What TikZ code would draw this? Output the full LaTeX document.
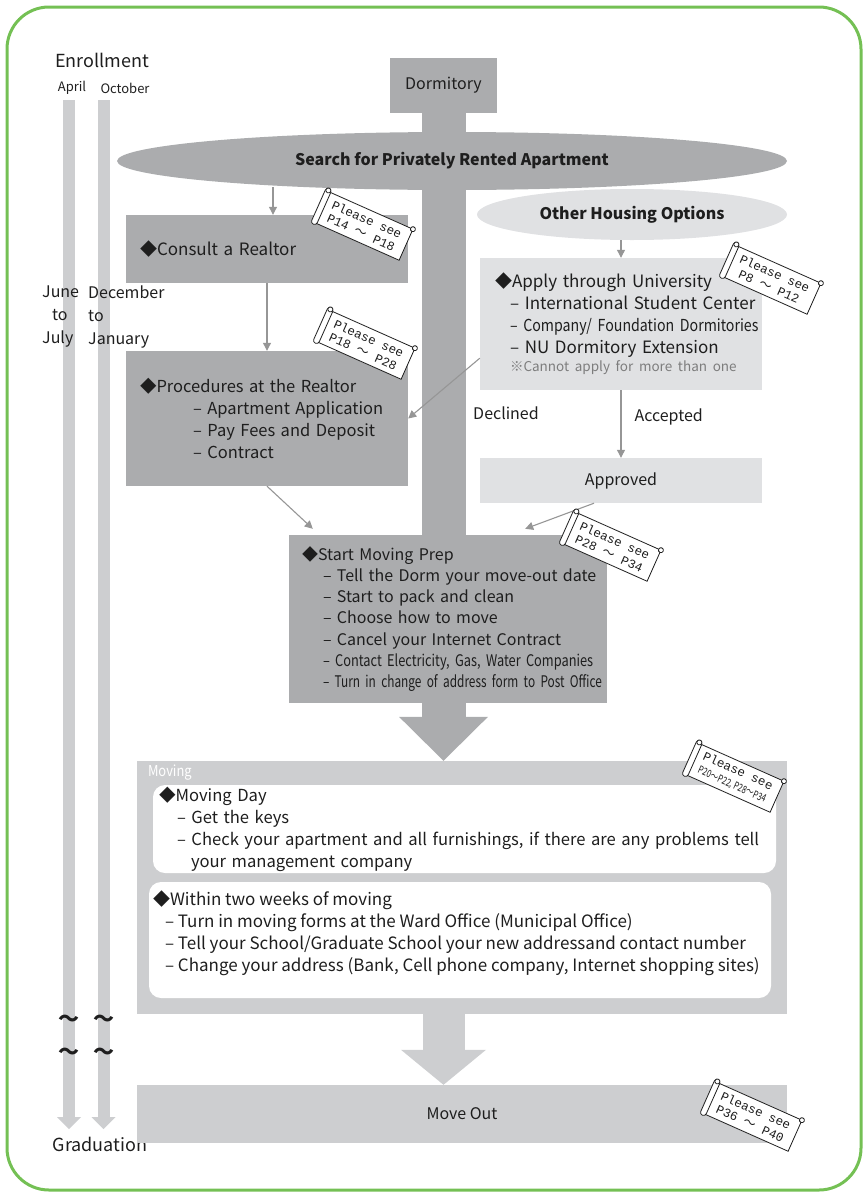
\documentclass[tikz,border=0pt]{standalone}
\usepackage{fontspec}
\setmainfont{Noto Sans CJK JP}
\newfontfamily\narrowfont[FakeStretch=0.86]{Noto Sans CJK JP}
\newfontfamily\condfont[FakeStretch=0.80]{Noto Sans CJK JP}
\newfontfamily\tightfont[FakeStretch=0.74]{Noto Sans CJK JP}
\newfontfamily\jpfont{Noto Sans CJK JP}
\setmonofont{Liberation Mono}
\usetikzlibrary{shapes.geometric,arrows.meta,positioning,backgrounds}

\definecolor{ink}{RGB}{30,30,30}
\definecolor{darkgrey}{RGB}{171,172,174}
\definecolor{palegrey}{RGB}{224,225,227}
\definecolor{midgrey}{RGB}{205,206,208}
\definecolor{linegrey}{RGB}{150,150,150}
\definecolor{notegrey}{RGB}{125,125,125}
\definecolor{framegreen}{RGB}{116,192,84}

% one list line that never wraps
\newcommand{\entry}[1]{\mbox{– #1}}

\tikzset{
  darkbox/.style={fill=darkgrey, inner ysep=0pt, align=left},
  palebox/.style={fill=palegrey, inner ysep=0pt, align=left},
  movebox/.style={fill=midgrey, inner sep=0pt},
  notebox/.style={fill=white, rounded corners=12pt, inner ysep=0pt, align=left},
  oval/.style={ellipse, inner sep=0pt, font=\bfseries\fontsize{16}{18}\selectfont},
  flow/.style={draw=linegrey, line width=1.1pt, -{Triangle[width=8pt,length=8pt]}},
  bigflow/.style={draw=darkgrey, line width=44pt, -{Triangle[width=89pt,length=44pt,line width=0pt]}},
  softflow/.style={draw=midgrey, line width=42pt, -{Triangle[width=85pt,length=35pt,line width=0pt]}},
  timebar/.style={draw=midgrey, line width=12pt, -{Triangle[width=24pt,length=12pt,line width=0pt]}},
  monthtext/.style={inner sep=0pt, font=\fontsize{13}{15}\selectfont},
  period/.style={anchor=north west, inner sep=0pt, align=left, font=\fontsize{16}{23}\selectfont},
  wave/.style={inner sep=0pt, font=\bfseries\fontsize{21}{21}\selectfont},
  flowlabel/.style={inner sep=0pt},
  scrollbox/.style={draw=ink, fill=white, line width=0.8pt, minimum width=92pt,
    minimum height=34pt, inner sep=0pt, align=center, transform shape,
    font=\ttfamily\fontsize{12.5}{14}\selectfont},
  scrollline/.style={draw=ink, line width=0.8pt, fill=white}
}

% page reference scroll: name, centre, pages
\newcommand{\pleasesee}[3]{%
  \begin{scope}[shift={(#2)}, rotate=-24]
    \node[scrollbox] (#1) at (0,0) {Please see\\#3};
    \draw[scrollline, rounded corners=3pt] (-50,-20) rectangle (-44,19);
    \draw[scrollline] (-47,-18) circle (2.5pt);
    \draw[scrollline] (46,-17) circle (2.5pt);
  \end{scope}}

\begin{document}
\begin{tikzpicture}[x=1pt, y=-1pt, font=\fontsize{16}{22}\selectfont, text=ink]
\useasboundingbox (0,0) rectangle (867,1194);
\draw[framegreen, line width=3pt, rounded corners=42pt] (7,7) rectangle (861,1190);

% time line
\draw[timebar] (69,100) -- (69,1129);
\draw[timebar] (103.5,100) -- (103.5,1129);
\node[font=\fontsize{18}{20}\selectfont] (enroll) at (102,60) {Enrollment};
\node[monthtext] (april) at (72,88) {April};
\node[monthtext] (october) at (125,88) {October};
\node[period] (spring) at (42,286) {June\\\hspace*{10pt}to\\July};
\node[period] (autumn) at (88,286) {December\\to\\January};
\foreach \y [count=\i] in {1021,1054} {
  \node[wave] (wa\i) at (69,\y) {〜};
  \node[wave] (wb\i) at (103.5,\y) {〜};
}
\node[font=\fontsize{18}{20}\selectfont] (grad) at (100,1144) {Graduation};

% housing search
\node[darkbox, minimum width=107, minimum height=55, inner xsep=0pt, align=center] (dorm) at (443.5,85.5) {Dormitory};
\node[oval, fill=darkgrey, minimum width=670, minimum height=58] (search) at (452,161) {Search for Privately Rented Apartment};
\node[oval, fill=palegrey, minimum width=310, minimum height=51] (other) at (632,214.5) {Other Housing Options};
\node[darkbox, minimum width=282, minimum height=68, inner xsep=14pt, text width=254,
  font=\fontsize{17}{22}\selectfont] (consult) at (267,249) {◆Consult a Realtor};
\node[darkbox, minimum width=282, minimum height=135, inner xsep=14pt, text width=254,
  font=\fontsize{16.5}{22}\selectfont] (proc) at (267,418.5)
  {◆Procedures at the Realtor\\
   \hspace*{53pt}\entry{Apartment Application}\\
   \hspace*{53pt}\entry{Pay Fees and Deposit}\\
   \hspace*{53pt}\entry{Contract}};
\node[palebox, minimum width=282, minimum height=132, inner xsep=15pt, text width=252,
  font=\fontsize{17}{22}\selectfont] (apply) at (621,324)
  {◆Apply through University\\
   \hspace*{15pt}\entry{International Student Center}\\
   \hspace*{15pt}{\narrowfont\fontsize{16.5}{22}\selectfont\entry{Company/ Foundation Dormitories}}\\
   \hspace*{15pt}\entry{NU Dormitory Extension}\\[-4pt]
   {\color{notegrey}\fontsize{13.5}{18}\selectfont\hspace*{15pt}\mbox{※Cannot apply for more than one}}};
\node[palebox, minimum width=282, minimum height=45, inner xsep=0pt, align=center] (approved) at (621,480.5) {Approved};
\node[darkbox, minimum width=318, minimum height=168, inner xsep=13pt, text width=292,
  font=\fontsize{16}{21.3}\selectfont] (prep) at (448,619)
  {◆Start Moving Prep\\
   \hspace*{21pt}\entry{Tell the Dorm your move-out date}\\
   \hspace*{21pt}\entry{Start to pack and clean}\\
   \hspace*{21pt}\entry{Choose how to move}\\
   \hspace*{21pt}\entry{Cancel your Internet Contract}\\
   \hspace*{21pt}{\condfont\entry{Contact Electricity, Gas, Water Companies}}\\
   \hspace*{21pt}{\tightfont\entry{Turn in change of address form to Post Office}}};

% moving
\node[movebox, minimum width=650, minimum height=253] (moving) at (462,887.5) {};
\node[text=white, anchor=west, inner sep=0pt, font=\narrowfont\fontsize{15}{18}\selectfont] (movlabel)
  at ([xshift=11pt,yshift=-12pt]moving.north west) {Moving};
\node[notebox, minimum width=623, minimum height=88, inner xsep=6pt, text width=611,
  font=\fontsize{16.6}{22}\selectfont] (moveday) at (464.5,829)
  {◆Moving Day\\
   \hspace*{18pt}\entry{Get the keys}\\
   \hspace*{18pt}\entry{Check your apartment and all furnishings, if there are any problems tell}\\
   \hspace*{32pt}your management company};
\node[notebox, minimum width=622, minimum height=116] (within) at (460,940) {};
\node[anchor=north west, inner sep=0pt, align=left, font=\fontsize{17}{21.8}\selectfont] (withintext)
  at ([xshift=4pt,yshift=-9pt]within.north west)
  {◆Within two weeks of moving\\
   \hspace*{12pt}\entry{Turn in moving forms at the Ward Office (Municipal Office)}\\
   \hspace*{12pt}\entry{Tell your School/Graduate School your new addressand contact number}\\
   \hspace*{12pt}\entry{Change your address (Bank, Cell phone company, Internet shopping sites)}};
\node[movebox, minimum width=650, minimum height=58] (moveout) at (462,1114) {Move Out};

% connectors
\begin{scope}[on background layer]
  \draw[bigflow] (dorm.south) -- (dorm.south |- moving.north);
\end{scope}
\draw[softflow] (moving.south -| dorm.south) -- (moveout.north -| dorm.south);
\coordinate (srchfoot) at (273,187);
\draw[flow] (srchfoot) -- (srchfoot |- consult.north);
\draw[flow] (consult.south) -- (proc.north);
\draw[flow] (other.south -| apply.north) -- (apply.north);
\draw[flow] (apply.south) -- node[flowlabel, pos=0.4, anchor=west, xshift=13pt] {Accepted} (approved.north);
\draw[flow] ([yshift=32pt]apply.south west) -- (proc.east);
\node[flowlabel] (declined) at (506,413) {Declined};
\draw[flow] (proc.south) -- ([xshift=24pt,yshift=6pt]prep.north west);
\draw[flow] ([xshift=-27pt]approved.south) -- ([xshift=-82pt,yshift=6pt]prep.north east);

% page references
\pleasesee{see1}{364,226}{P14 {\jpfont ～} P18}
\pleasesee{see2}{366,345}{P18 {\jpfont ～} P28}
\pleasesee{see3}{772,280}{P8 {\jpfont ～} P12}
\pleasesee{see4}{612,547}{P28 {\jpfont ～} P34}
\pleasesee{see5}{735,778}{{\tightfont\fontsize{10.5}{12}\selectfont P20～P22, P28～P34}}
\pleasesee{see6}{753,1117}{P36 {\jpfont ～} P40}
\end{tikzpicture}
\end{document}
